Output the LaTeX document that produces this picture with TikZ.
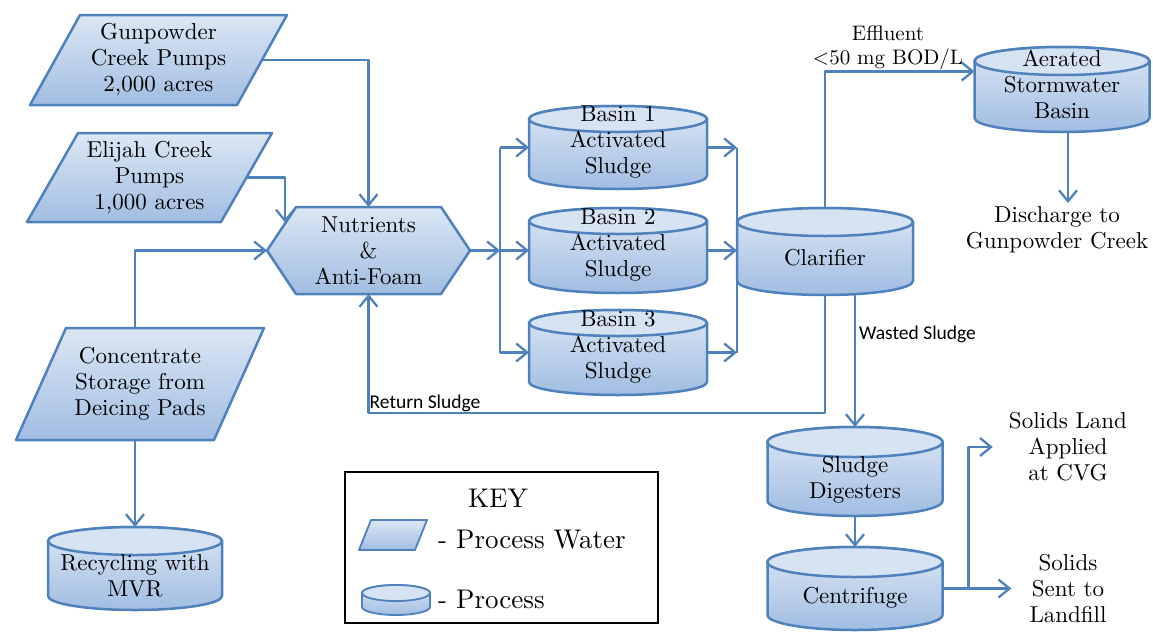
\documentclass[tikz,border=0pt]{standalone}
\usepackage{fontspec}
\setmainfont{lmroman10-regular.otf}
\newfontfamily\labelsans{Carlito}
\usetikzlibrary{arrows.meta,calc}

\definecolor{flowblue}{HTML}{4F81BD}
\definecolor{shadeTop}{HTML}{DCE7F4}
\definecolor{shadeBot}{HTML}{A1BDE2}
\definecolor{capFace}{HTML}{D6E3F3}

\tikzset{
  flow/.style={draw=flowblue, line width=2.3pt, line join=round,
               -{Straight Barb[length=11pt,width=18pt,line width=2.3pt]}},
  bus/.style={draw=flowblue, line width=2.3pt},
  shapeline/.style={draw=flowblue, line width=2.5pt, line join=round},
  waterfill/.style={shapeline, top color=shadeTop, bottom color=shadeBot},
  anchorbox/.style={rectangle, inner sep=0pt, outer sep=0pt},
  boxtext/.style={align=center, inner sep=0pt, font=\fontsize{23}{26}\selectfont},
  smalltext/.style={align=center, inner sep=0pt, font=\fontsize{21}{24}\selectfont},
  sanslabel/.style={inner sep=1pt, font=\labelsans\fontsize{19.5}{22}\selectfont},
  keytext/.style={inner sep=0pt, font=\fontsize{27}{30}\selectfont},
}

% Cylinder ("process") symbol:
% #1 name, #2 centre x, #3 top y, #4 bottom y, #5 width, #6 cap half-height,
% #7 text centre y, #8 text
\newcommand{\tank}[8]{%
  \pgfmathsetmacro{\tkL}{#2-#5/2}%
  \pgfmathsetmacro{\tkR}{#2+#5/2}%
  \pgfmathsetmacro{\tkT}{#3+#6}%
  \pgfmathsetmacro{\tkB}{#4-#6}%
  \pgfmathsetmacro{\tkRX}{#5/2}%
  \pgfmathsetmacro{\tkH}{#4-#3}%
  \pgfmathsetmacro{\tkC}{(#3+#4)/2}%
  \path[waterfill] (\tkL,\tkT) -- (\tkL,\tkB)
     arc[start angle=180,end angle=360,x radius=\tkRX pt,y radius=#6pt]
     -- (\tkR,\tkT)
     arc[start angle=0,end angle=180,x radius=\tkRX pt,y radius=#6pt] -- cycle;
  \path[shapeline, fill=capFace] (#2,\tkT) ellipse[x radius=\tkRX pt, y radius=#6pt];
  \node[anchorbox, minimum width=#5pt, minimum height=\tkH pt] (#1) at (#2,\tkC) {};
  \node[boxtext] at (#2,#7) {#8};
}

\begin{document}
\begin{tikzpicture}[x=1pt,y=-1pt]
\useasboundingbox (0,0) rectangle (1153,632);

% ---------- process water inputs ----------
\path[waterfill] (80,15) -- (287,15) -- (237,105) -- (30,105) -- cycle;
\node[anchorbox, boxtext, minimum width=207pt, minimum height=90pt] (gun) at (158.5,60)
  {Gunpowder\\Creek Pumps\\2,000 acres};

\path[waterfill] (78,133) -- (272,133) -- (221,222) -- (27,222) -- cycle;
\node[anchorbox, boxtext, minimum width=194pt, minimum height=89pt] (eli) at (149.5,177.5)
  {Elijah Creek\\Pumps\\1,000 acres};

\path[waterfill] (66,328) -- (264,328) -- (214,440) -- (16,440) -- cycle;
\node[anchorbox, boxtext, minimum width=198pt, minimum height=112pt] (conc) at (140,384)
  {Concentrate\\Storage from\\Deicing Pads};

% ---------- nutrient dosing ----------
\path[waterfill] (267,250.5) -- (296,207) -- (441,207) -- (470,250.5) -- (441,294) -- (296,294) -- cycle;
\node[anchorbox, boxtext, minimum width=203pt, minimum height=87pt] (hex) at (368.5,250.5)
  {Nutrients\\\&\\Anti-Foam};

% ---------- process tanks ----------
\tank{rec}{135}{527}{610}{174}{14}{576}{Recycling with\\MVR}
\tank{b1}{618}{106}{189}{178}{13}{142}{Basin 1\\Activated\\Sludge}
\tank{b2}{618}{208}{293}{178}{13}{245}{Basin 2\\Activated\\Sludge}
\tank{b3}{618}{310}{395}{178}{13}{347}{Basin 3\\Activated\\Sludge}
\tank{clar}{825}{208}{295}{176}{14}{258}{Clarifier}
\tank{aer}{1062}{47}{132}{175}{14}{84}{Aerated\\Stormwater\\Basin}
\tank{dig}{855}{427}{516}{175}{15}{480}{Sludge\\Digesters}
\tank{cen}{855}{547}{630}{175}{15}{598}{Centrifuge}

% ---------- destinations ----------
\node[boxtext] (dis) at (1057,229.5) {Discharge to\\Gunpowder Creek};
\node[boxtext] (cvg) at (1068,447) {Solids Land\\Applied\\at CVG};
\node[boxtext] (land) at (1068,589) {Solids\\Sent to\\Landfill};

% ---------- flows into the dosing step ----------
\draw[flow] (gun.east) -| (hex.north);
\coordinate (hexedge) at ($(hex.west)+(18,-28)$);
\draw[flow] (eli.east) -| (hexedge);
\draw[flow] (conc.north -| rec.north) |- (hex.west);
\draw[flow] (conc.south -| rec.north) -- (rec.north);

% ---------- distribution to the basins ----------
\coordinate (busin) at (500,250.5);
\draw[flow] (hex.east) -- (busin);
\draw[bus] (b1.west -| busin) -- (b3.west -| busin);
\draw[flow] (b1.west -| busin) -- (b1.west);
\draw[flow] (busin) -- (b2.west);
\draw[flow] (b3.west -| busin) -- (b3.west);

% ---------- basins to clarifier ----------
\draw[bus] (b1.east -| clar.west) -- (b3.east -| clar.west);
\draw[flow] (b1.east) -- (b1.east -| clar.west);
\draw[flow] (b2.east) -- (b2.east -| clar.west);
\draw[flow] (b3.east) -- (b3.east -| clar.west);

% ---------- effluent ----------
\draw[flow] (clar.north) |- ($(aer.west)+(0,-18)$);
\node[smalltext, anchor=south] at (888,70) {Effluent\\<50 mg BOD/L};
\draw[flow, shorten >=3pt] ([xshift=6pt]aer.south) -- ([xshift=11pt]dis.north);

% ---------- return and wasted sludge ----------
\path (hex.south) ++(0,119) coordinate (ret);
\draw[flow] (clar.south) |- (ret) -- (hex.south);
\node[sanslabel, anchor=south west] at (ret) {Return Sludge};
\draw[flow] (dig.north |- clar.south) -- (dig.north);
\node[sanslabel, anchor=west] at (858,334) {Wasted Sludge};

% ---------- solids handling ----------
\draw[flow] (dig.south) -- (cen.north);
\draw[flow, shorten >=18pt] (cen.east) -- (cen.east -| land.west);
\coordinate (split) at ($(cen.east)+(26,0)$);
\draw[flow, shorten >=16pt] (split) |- (cvg.west);

% ---------- key ----------
\node[draw=black, line width=2pt, minimum width=313pt, minimum height=151pt, inner sep=0pt]
  (key) at (501.5,547.5) {};
\node[keytext] at (498,498) {KEY};
\path[waterfill, line width=1.8pt] (371,520) -- (427,520) -- (415,550) -- (359,550) -- cycle;
\node[keytext, anchor=west] at (438,540) {- Process Water};
\path[waterfill, line width=1.8pt] (362,593) -- (362,607)
   arc[start angle=180,end angle=360,x radius=34pt,y radius=8pt] -- (430,593)
   arc[start angle=0,end angle=180,x radius=34pt,y radius=8pt] -- cycle;
\path[shapeline, line width=1.8pt, fill=capFace] (396,593) ellipse[x radius=34pt, y radius=8pt];
\node[keytext, anchor=west] at (438,599) {- Process};

\end{tikzpicture}
\end{document}
